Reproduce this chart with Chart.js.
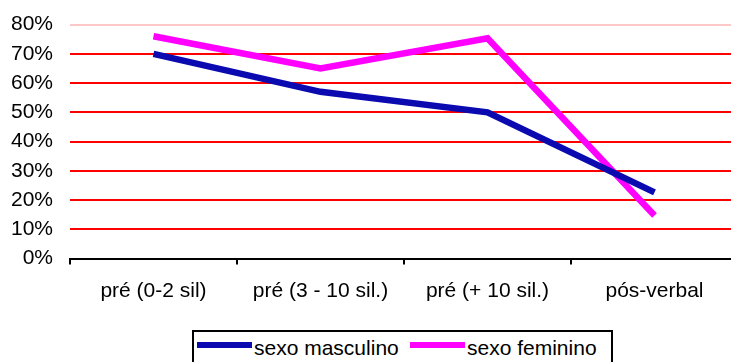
<!DOCTYPE html>
<html>
<head>
<meta charset="utf-8">
<script src="https://cdn.jsdelivr.net/npm/chart.js@4/dist/chart.umd.min.js"></script>
<style>
    html, body { margin: 0; padding: 0; background: #fff; overflow: hidden; width: 731px; height: 362px; }
    #wrap { position: absolute; left: 0; top: -5.5px; width: 760px; height: 320px; }
    #legend {
        position: absolute; left: 192px; top: 330px; width: 421px; height: 50px;
        box-sizing: border-box; border: 2px solid #000; background: #fff;
        font-family: "Liberation Sans", Arial, sans-serif; font-size: 21px; line-height: 21px; color: #000;
    }
    .swatch { position: absolute; top: 10px; width: 55px; height: 6px; }
    .lbl { position: absolute; top: 5px; white-space: nowrap; }
</style>
</head>
<body>
<div id="wrap"><canvas id="chart" width="760" height="320"></canvas></div>
<div id="legend"></div>
<script>
// categories and values (%)
const categories = ['pré (0-2 sil)', 'pré (3 - 10 sil.)', 'pré (+ 10 sil.)', 'pós-verbal'];
const seriesNames = ['sexo masculino', 'sexo feminino'];
const masculino = [70, 57, 50, 22.6];
const feminino = [76, 65, 75.3, 14.7];
const yTicks = [0, 10, 20, 30, 40, 50, 60, 70, 80];
const seriesColors = ['#0a0ab0', '#ff00ff'];

const font = { family: '"Liberation Sans", Arial, sans-serif', size: 21 };

function initChart() {
    const ctx = document.getElementById('chart').getContext('2d');
    new Chart(ctx, {
        type: 'line',
        data: {
            labels: categories,
            datasets: [
                { label: seriesNames[0], data: masculino, borderColor: seriesColors[0], borderWidth: 6.5, pointRadius: 0, tension: 0, borderJoinStyle: 'miter' },
                { label: seriesNames[1], data: feminino, borderColor: seriesColors[1], borderWidth: 6.5, pointRadius: 0, tension: 0, borderJoinStyle: 'miter' }
            ]
        },
        options: {
            responsive: false,
            animation: false,
            layout: { padding: { top: 17.5, right: 22, left: 0, bottom: 0 } },
            plugins: { legend: { display: false }, tooltip: { enabled: false } },
            scales: {
                x: {
                    offset: true,
                    grid: { offset: true, drawOnChartArea: false, drawTicks: true, tickLength: 6, color: '#000', lineWidth: 2 },
                    border: { display: true, color: '#000', width: 2 },
                    ticks: { color: '#000', font: font, padding: 14, maxRotation: 0 },
                    afterFit: (scale) => { scale.height = 56.5; }
                },
                y: {
                    min: 0,
                    max: 80,
                    afterBuildTicks: (scale) => { scale.ticks = yTicks.map(v => ({ value: v })); },
                    grid: {
                        drawTicks: false,
                        lineWidth: 2,
                        color: (c) => c.tick.value === 80 ? '#ffc8c8' : (c.tick.value === 0 ? '#000' : '#ff0000')
                    },
                    border: { display: false },
                    ticks: { color: '#000', font: font, padding: 17, callback: (v) => v + '%' },
                    afterFit: (scale) => { scale.width = 70; }
                }
            }
        }
    });
}

// legend drawn as html under the chart
function buildLegend() {
    const legend = document.getElementById('legend');
    const swatchX = [3, 216];
    const textX = [60, 273];
    seriesNames.forEach((name, i) => {
        const sw = document.createElement('span');
        sw.className = 'swatch';
        sw.style.left = swatchX[i] + 'px';
        sw.style.background = seriesColors[i];
        legend.appendChild(sw);
        const t = document.createElement('span');
        t.className = 'lbl';
        t.style.left = textX[i] + 'px';
        t.textContent = name;
        legend.appendChild(t);
    });
}

initChart();
buildLegend();
</script>
</body>
</html>
